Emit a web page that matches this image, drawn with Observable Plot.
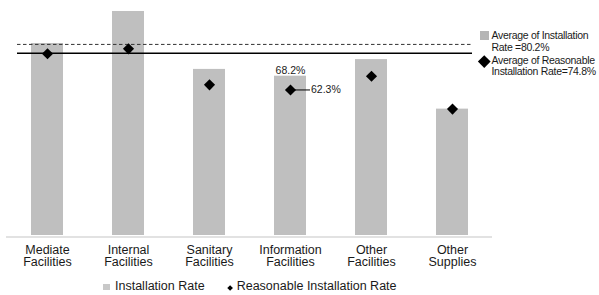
<!DOCTYPE html>
<html><head><meta charset="utf-8">
<script src="https://cdn.jsdelivr.net/npm/d3@7"></script>
<script src="https://cdn.jsdelivr.net/npm/@observablehq/plot@0.6"></script>
<style>
body{margin:0;background:#fff;font-family:"Liberation Sans",Arial,sans-serif;}
#wrap{position:relative;width:599px;height:295px;overflow:hidden;}
#chart{position:absolute;left:0;top:0;}
.rl{position:absolute;left:491.5px;font-size:10.5px;line-height:11.5px;letter-spacing:-0.3px;color:#1a1a1a;white-space:nowrap;}
.bl{position:absolute;font-size:12.5px;line-height:12.5px;color:#1a1a1a;white-space:nowrap;}
.sq{position:absolute;background:#bfbfbf;}
.dm{position:absolute;background:#000;transform:rotate(45deg);}
</style>
</head><body>
<div id="wrap">
  <div id="chart"></div>
  <div class="sq" style="left:480px;top:31px;width:9px;height:9px;background:#b5b5b5"></div>
  <div class="rl" style="top:30.1px">Average of Installation<br>Rate =80.2%</div>
  <div class="dm" style="left:480px;top:57px;width:8.5px;height:8.5px"></div>
  <div class="rl" style="top:54.6px">Average of Reasonable<br>Installation Rate=74.8%</div>
  <div class="sq" style="left:103px;top:283.5px;width:6.5px;height:6.5px;background:#c8c8c8"></div>
  <div class="bl" style="left:115px;top:280.4px">Installation Rate</div>
  <div class="dm" style="left:227.6px;top:285.6px;width:4.2px;height:4.2px"></div>
  <div class="bl" style="left:236.7px;top:280.4px">Reasonable Installation Rate</div>
</div>
<script>
const categories = ["Mediate Facilities", "Internal Facilities", "Sanitary Facilities", "Information Facilities", "Other Facilities", "Other Supplies"];
const installationRate = [82.2, 95.9, 71.1, 68.2, 75.3, 54.1];
const reasonableRate = [77.8, 79.9, 64.5, 62.3, 68.2, 54.1];
const avgInstallationLine = [81.8];
const avgReasonableLine = [78.0];
const labeledCategory = "Information Facilities";

const data = categories.map((c, i) => ({category: c, installation: installationRate[i], reasonable: reasonableRate[i]}));
const labeled = data.filter(d => d.category === labeledCategory);

const chart = Plot.plot({
  width: 599,
  height: 272,
  marginLeft: 6,
  marginRight: 107,
  marginTop: 1.4,
  marginBottom: 37,
  style: {fontFamily: '"Liberation Sans", Arial, sans-serif', background: "#fff"},
  x: {type: "band", domain: categories, paddingInner: 0.605, paddingOuter: 0.3025, axis: null, label: null},
  y: {domain: [0, 100], axis: null},
  marks: [
    Plot.barY(data, {x: "category", y: "installation", fill: "#bfbfbf"}),
    Plot.ruleY([0], {stroke: "#d9d9d9", strokeWidth: 1.5, dy: 1.5}),
    Plot.ruleY(avgInstallationLine, {stroke: "#333", strokeWidth: 1, strokeDasharray: "3.5,2.5", insetLeft: 11, insetRight: 20}),
    Plot.ruleY(avgReasonableLine, {stroke: "#000", strokeWidth: 1.4, insetLeft: 11, insetRight: 20}),
    Plot.tickY(labeled, {x: "category", y: "reasonable", stroke: "#000", strokeWidth: 1, insetLeft: 21, insetRight: -4}),
    Plot.dot(data, {x: "category", y: "reasonable", symbol: "diamond2", r: 5, fill: "#000", stroke: null}),
    Plot.text(labeled, {x: "category", y: "installation", text: d => d.installation.toFixed(1) + "%", lineAnchor: "bottom", dy: -2.5, fontSize: 10.5, fill: "#1a1a1a"}),
    Plot.text(labeled, {x: "category", y: "reasonable", text: d => d.reasonable.toFixed(1) + "%", textAnchor: "start", dx: 20.5, fontSize: 10.5, fill: "#1a1a1a"}),
    Plot.axisX({tickSize: 0, tickPadding: 9.4, fontSize: 12.5, lineHeight: 1, fill: "#1a1a1a", label: null, tickFormat: d => d.replace(" ", "\n")})
  ]
});
document.getElementById("chart").append(chart);
</script>
</body></html>
